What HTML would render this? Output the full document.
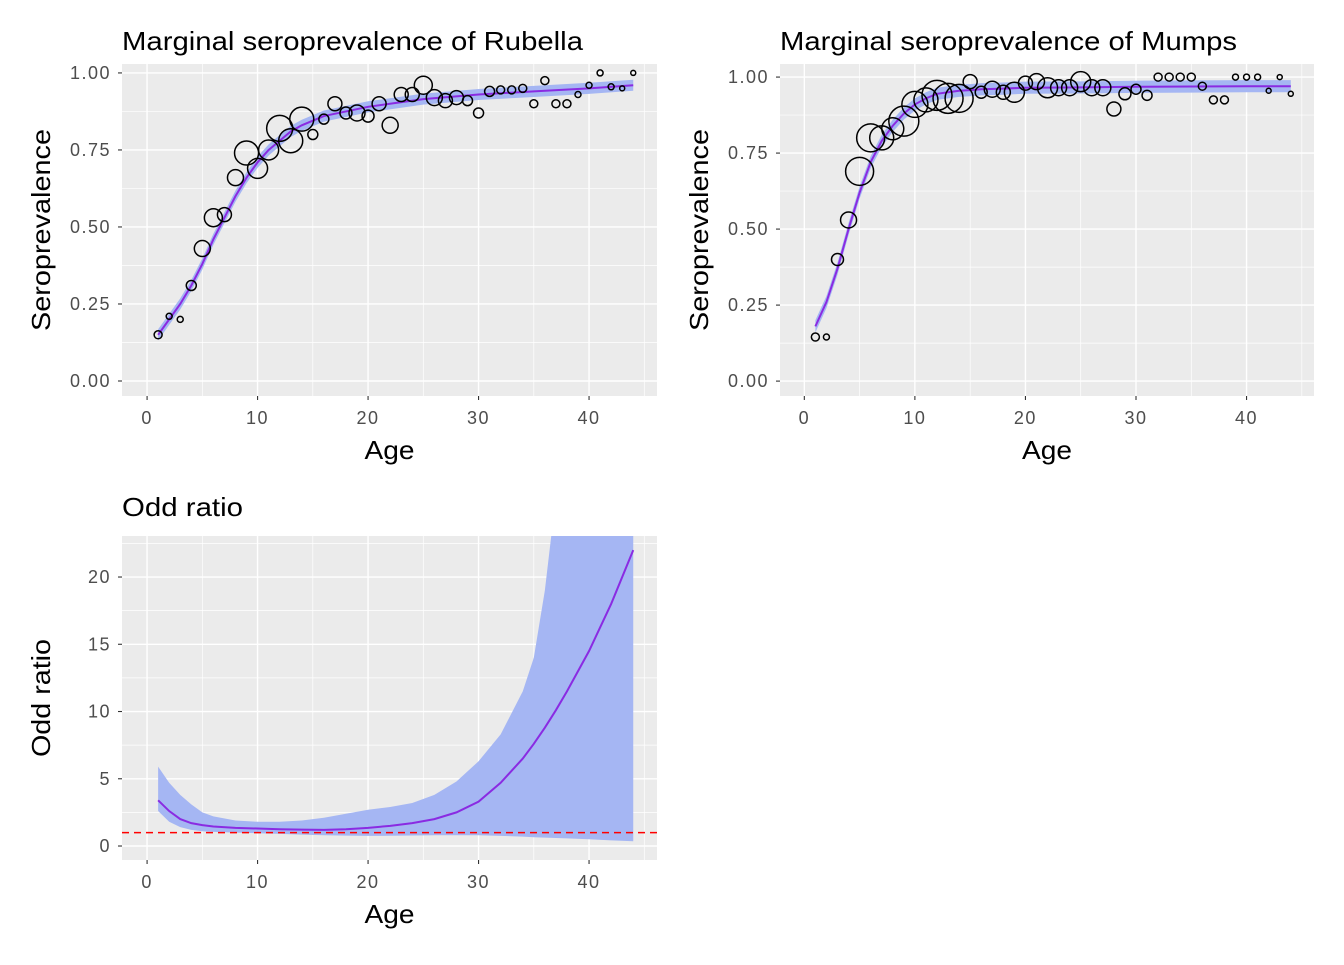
<!DOCTYPE html>
<html><head><meta charset="utf-8"><style>
body{margin:0;background:#fff;font-family:"Liberation Sans",Arial,sans-serif}
svg text{font-family:"Liberation Sans",Arial,sans-serif}
</style></head><body>
<svg id="s" width="1344" height="960" xmlns="http://www.w3.org/2000/svg"></svg>
<script>
const ages=[1,2,3,4,5,6,7,8,9,10,11,12,13,14,15,16,17,18,19,20,21,22,23,24,25,26,27,28,29,30,31,32,33,34,35,36,37,38,39,40,41,42,43,44];
const rubPrev=[0.15,0.21,0.20,0.31,0.43,0.53,0.54,0.66,0.74,0.69,0.75,0.82,0.78,0.85,0.80,0.85,0.90,0.87,0.87,0.86,0.90,0.83,0.93,0.93,0.96,0.92,0.91,0.92,0.91,0.87,0.94,0.945,0.945,0.95,0.90,0.975,0.90,0.90,0.93,0.96,1.0,0.955,0.95,1.0];
const rubSize=[4,3,3,5,8,9,7,8,12,10,10,13,12,12,5,5,7,6,8,6,7,8,7,7,9,8,7,7,5,5,5,4,4,4,4,4,4,4,3,3,3,3,2.5,2.5];
const mumPrev=[0.145,0.145,0.40,0.53,0.69,0.80,0.80,0.83,0.855,0.91,0.925,0.94,0.93,0.93,0.985,0.95,0.96,0.95,0.95,0.98,0.985,0.965,0.965,0.965,0.985,0.965,0.965,0.895,0.945,0.96,0.94,1.0,1.0,1.0,1.0,0.97,0.925,0.925,1.0,1.0,1.0,0.955,1.0,0.945];
const mumSize=[4,3,6,8,14,14,12,11,15,13,12,15,15,14,7,6,8,7,10,7,8,10,8,8,10,8,8,7,6,5,5,4,4,4,4,4,4,4,3,3,3,2.5,2.5,2.5];
const fitAges=[1,2,3,4,5,6,7,8,9,10,11,12,13,14,15,16,18,20,25,30,35,40,44];
const rubFit=[0.15,0.20,0.25,0.31,0.38,0.46,0.53,0.60,0.66,0.71,0.75,0.78,0.81,0.83,0.845,0.86,0.875,0.89,0.915,0.93,0.94,0.95,0.96];
const mumFit=[0.18,0.26,0.37,0.50,0.62,0.72,0.79,0.84,0.88,0.91,0.93,0.945,0.95,0.955,0.957,0.96,0.962,0.965,0.966,0.968,0.969,0.97,0.97];
const orAges=[1,2,3,4,5,6,8,10,12,14,16,18,20,22,24,26,28,30,32,34,35,36,37,38,40,42,44];
const orFit=[3.4,2.6,2.0,1.7,1.55,1.45,1.35,1.3,1.25,1.22,1.2,1.25,1.35,1.5,1.7,2.0,2.5,3.3,4.7,6.5,7.6,8.8,10.1,11.5,14.5,18,22];
const orUpper=[5.9,4.7,3.8,3.1,2.5,2.2,1.9,1.8,1.8,1.9,2.1,2.4,2.7,2.9,3.2,3.8,4.8,6.3,8.3,11.5,14,19,26,32,45,60,80];
const orLower=[2.6,1.8,1.4,1.2,1.1,1.05,1.0,0.95,0.9,0.85,0.8,0.77,0.75,0.76,0.78,0.8,0.8,0.8,0.75,0.7,0.65,0.62,0.6,0.57,0.5,0.42,0.35];
const xTicks=[0,10,20,30,40];
const NS="http://www.w3.org/2000/svg";
const svg=document.getElementById('s');
function mk(t,a,p){const e=document.createElementNS(NS,t);for(const k in a)e.setAttribute(k,a[k]);(p||svg).appendChild(e);return e;}
function panel(o){
 const g=mk('g',{});
 
 
 const X=v=>o.x0+(v-o.xmin)/(o.xmax-o.xmin)*(o.x1-o.x0);
 const Y=v=>o.y1-(v-o.ymin)/(o.ymax-o.ymin)*(o.y1-o.y0);
 mk('rect',{x:o.x0,y:o.y0,width:o.x1-o.x0,height:o.y1-o.y0,fill:'#ebebeb'},g);
 const cp='c'+o.name;const cl=mk('clipPath',{id:cp},g);mk('rect',{x:o.x0,y:o.y0,width:o.x1-o.x0,height:o.y1-o.y0},cl);
 for(let i=0;i<xTicks.length+1;i++){const m=xTicks[0]+i*10-5;if(m>o.xmin&&m<o.xmax)mk('line',{x1:X(m),x2:X(m),y1:o.y0,y2:o.y1,stroke:'#fff','stroke-width':0.7},g);}
 o.yMinor.forEach(m=>mk('line',{x1:o.x0,x2:o.x1,y1:Y(m),y2:Y(m),stroke:'#fff','stroke-width':0.7},g));
 xTicks.forEach(t=>{mk('line',{x1:X(t),x2:X(t),y1:o.y0,y2:o.y1,stroke:'#fff','stroke-width':1.4},g);
  mk('line',{x1:X(t),x2:X(t),y1:o.y1,y2:o.y1+4,stroke:'#333','stroke-width':1.1},g);
  const tx=mk('text',{x:X(t),y:o.y1+28,'text-anchor':'middle','font-size':18,'letter-spacing':1.5,fill:'#4d4d4d'},g);tx.textContent=t;});
 o.yTicks.forEach((t,i)=>{mk('line',{x1:o.x0,x2:o.x1,y1:Y(t),y2:Y(t),stroke:'#fff','stroke-width':1.4},g);
  mk('line',{x1:o.x0-4,x2:o.x0,y1:Y(t),y2:Y(t),stroke:'#333','stroke-width':1.1},g);
  const tx=mk('text',{x:o.x0-11,y:Y(t)+6,'text-anchor':'end','font-size':18,'letter-spacing':1.5,fill:'#4d4d4d'},g);tx.textContent=o.yLabels[i];});
 const inner=mk('g',{'clip-path':'url(#'+cp+')'},g);
 let d='';o.bx.forEach((a,i)=>d+=(i?'L':'M')+X(a)+','+Y(o.bu[i]));
 for(let i=o.bx.length-1;i>=0;i--)d+='L'+X(o.bx[i])+','+Y(o.bl[i]);
 const band=mk('path',{d:d+'Z',fill:'#a5b6f3'},inner);
 
 
 if(o.ref!==undefined){const r=mk('line',{x1:o.x0,x2:o.x1,y1:Y(o.ref),y2:Y(o.ref),stroke:'#ff0000','stroke-width':1.5,'stroke-dasharray':'7,5'},inner);
  
  }
 let l='';o.bx.forEach((a,i)=>l+=(i?'L':'M')+X(a)+','+Y(o.fit[i]));
 const ln=mk('path',{d:l,fill:'none',stroke:'#8a2be2','stroke-width':2},inner);
 
 
 if(o.px){o.px.forEach((a,i)=>{const c=mk('circle',{cx:X(a),cy:Y(o.py[i]),r:o.ps[i],fill:'none',stroke:'#000','stroke-width':1.5},g);
  
  });}
 const ti=mk('text',{x:o.x0,y:o.titleY,'font-size':26,fill:'#000',textLength:o.titleW,lengthAdjust:'spacingAndGlyphs'},g);ti.textContent=o.title;
 
 const xl=mk('text',{x:(o.x0+o.x1)/2,y:o.y1+63,'text-anchor':'middle','font-size':26,fill:'#000',textLength:50,lengthAdjust:'spacingAndGlyphs'},g);xl.textContent='Age';
 
 const cy=(o.y0+o.y1)/2;const yl=mk('text',{x:o.yLabX,y:cy,'text-anchor':'middle','font-size':26,fill:'#000',textLength:o.ytW,lengthAdjust:'spacingAndGlyphs',transform:'rotate(-90 '+o.yLabX+' '+cy+')'},g);yl.textContent=o.ytitle;
 
}
panel({name:'rubella-panel',title:'Marginal seroprevalence of Rubella',titleW:461,titleY:50,ytitle:'Seroprevalence',ytW:202,x0:122,x1:657,y0:64,y1:396,xmin:-2.27,xmax:46.15,ymin:-0.0487,ymax:1.029,
 yTicks:[0,0.25,0.5,0.75,1],yLabels:['0.00','0.25','0.50','0.75','1.00'],yMinor:[0.125,0.375,0.625,0.875],
 bx:fitAges,fit:rubFit,bu:rubFit.map(v=>v+0.018),bl:rubFit.map(v=>v-0.018),px:ages,py:rubPrev,ps:rubSize,yLabX:50});
panel({name:'mumps-panel',title:'Marginal seroprevalence of Mumps',titleW:457,titleY:50,ytitle:'Seroprevalence',ytW:202,x0:780,x1:1314,y0:64,y1:396,xmin:-2.2,xmax:46.1,ymin:-0.049,ymax:1.043,
 yTicks:[0,0.25,0.5,0.75,1],yLabels:['0.00','0.25','0.50','0.75','1.00'],yMinor:[0.125,0.375,0.625,0.875],
 bx:fitAges,fit:mumFit,bu:mumFit.map(v=>v+0.02),bl:mumFit.map(v=>v-0.02),px:ages,py:mumPrev,ps:mumSize,yLabX:708});
panel({name:'odds-ratio-panel',title:'Odd ratio',titleW:121,titleY:516,ytitle:'Odd ratio',ytW:118,x0:122,x1:657,y0:536,y1:860,xmin:-2.27,xmax:46.15,ymin:-1.04,ymax:23.05,
 yTicks:[0,5,10,15,20],yLabels:['0','5','10','15','20'],yMinor:[2.5,7.5,12.5,17.5,22.5],
 bx:orAges,fit:orFit,bu:orUpper,bl:orLower,ref:1,yLabX:50});
</script>
</body></html>
